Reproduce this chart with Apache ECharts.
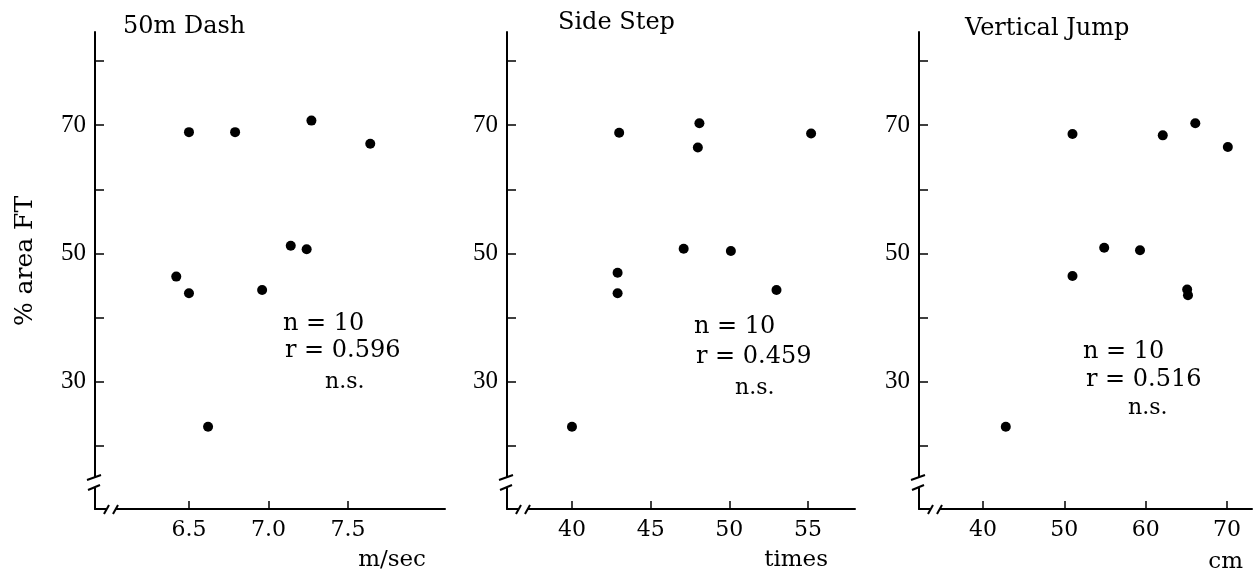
<!DOCTYPE html>
<html>
<head>
<meta charset="utf-8">
<script src="https://cdn.jsdelivr.net/npm/echarts@6/dist/echarts.min.js"></script>
<style>
html,body{margin:0;padding:0;background:#fff;}
#c{width:1254px;height:573px;}
</style>
</head>
<body>
<div id="c"></div>
<script>
// ---- data ----
const panelTitles = ['50m Dash', 'Side Step', 'Vertical Jump'];
const unitLabels = ['m/sec', 'times', 'cm'];
const statN = ['n = 10', 'n = 10', 'n = 10'];
const statR = ['r = 0.596', 'r = 0.459', 'r = 0.516'];
const statSig = ['n.s.', 'n.s.', 'n.s.'];

const dashX = [6.50, 6.79, 7.27, 7.64, 7.14, 7.24, 6.42, 6.50, 6.96, 6.62];
const dashY = [68.9, 68.9, 70.7, 67.1, 51.2, 50.65, 46.4, 43.8, 44.3, 23.0];
const stepX = [43.0, 48.1, 48.0, 55.2, 47.1, 50.1, 42.9, 42.9, 53.0, 40.0];
const stepY = [68.8, 70.3, 66.5, 68.7, 50.75, 50.4, 47.0, 43.8, 44.3, 23.0];
const jumpX = [51.0, 62.1, 66.1, 70.1, 54.9, 59.3, 51.0, 65.1, 65.2, 42.8];
const jumpY = [68.6, 68.4, 70.3, 66.6, 50.9, 50.5, 46.5, 44.4, 43.5, 23.0];

const dashTicks = [6.5, 7.0, 7.5];
const stepTicks = [40, 45, 50, 55];
const jumpTicks = [40, 50, 60, 70];
const yTickValues = [20, 30, 40, 50, 60, 70, 80];
const yLabelValues = [30, 50, 70];

const xRanges = [[5.909, 8.11], [35.87, 57.99], [32.13, 73.07]];
const yRange = [10.2, 84.5];

// ---- layout ----
const gridLefts = [95, 507, 919];
const gridWidths = [350, 348, 333];
const gridTop = 32, gridBottomY = 509;
const INK = '#000';

const xs = [dashX, stepX, jumpX];
const ys = [dashY, stepY, jumpY];
const xticks = [dashTicks, stepTicks, jumpTicks];
const xfmt = [v => Number(v).toFixed(1), v => String(v), v => String(v)];

const grids = [], xAxes = [], yAxes = [], series = [];
for (let i = 0; i < 3; i++) {
  grids.push({left: gridLefts[i], width: gridWidths[i], top: gridTop, height: gridBottomY - gridTop, containLabel: false});
  xAxes.push({
    type: 'value', gridIndex: i, min: xRanges[i][0], max: xRanges[i][1],
    splitLine: {show: false},
    axisLine: {show: true, lineStyle: {color: INK, width: 2}},
    axisTick: {show: true, inside: true, length: 8, customValues: xticks[i], lineStyle: {color: INK, width: 1.5}},
    axisLabel: {show: true, customValues: xticks[i], formatter: xfmt[i], margin: 10,
      color: INK, fontFamily: 'DejaVu Serif', fontSize: 22}
  });
  yAxes.push({
    type: 'value', gridIndex: i, min: yRange[0], max: yRange[1],
    splitLine: {show: false},
    axisLine: {show: true, lineStyle: {color: INK, width: 2}},
    axisTick: {show: true, inside: true, length: 9, customValues: yTickValues, lineStyle: {color: INK, width: 1.5}},
    axisLabel: {show: true, customValues: yLabelValues, margin: 9,
      color: INK, fontFamily: 'Liberation Serif', fontSize: 25}
  });
  series.push({
    type: 'scatter', xAxisIndex: i, yAxisIndex: i,
    data: xs[i].map((x, k) => [x, ys[i][k]]),
    symbol: 'circle', symbolSize: 10,
    itemStyle: {color: '#000', opacity: 1}
  });
}

// text + axis-break decorations
const titlePos = [[123, 27], [558, 23], [965, 29]];
const unitPos = [[426, 560], [828, 560], [1243, 562]];
const nPos = [[283, 324], [694, 327], [1083, 352]];
const rPos = [[285, 351], [696, 357], [1086, 380]];
const sPos = [[325, 382], [735, 388], [1128, 408]];

const graphic = [];
const txt = (x, y, text, size, align, extra) => Object.assign({
  type: 'text', x: x, y: y, silent: true,
  style: {text: text, fill: INK, font: size + 'px "DejaVu Serif"', textAlign: align || 'left', textVerticalAlign: 'middle'}
}, extra || {});

for (let i = 0; i < 3; i++) {
  graphic.push(txt(titlePos[i][0], titlePos[i][1], panelTitles[i], 24));
  graphic.push(txt(unitPos[i][0], unitPos[i][1], unitLabels[i], 23, 'right'));
  graphic.push(txt(nPos[i][0], nPos[i][1], statN[i], 24));
  graphic.push(txt(rPos[i][0], rPos[i][1], statR[i], 24));
  graphic.push(txt(sPos[i][0], sPos[i][1], statSig[i], 22));

  const ax = gridLefts[i], ay = gridBottomY;
  // gap in y axis
  graphic.push({type: 'rect', silent: true, shape: {x: ax - 4, y: ay - 32, width: 8, height: 11}, style: {fill: '#fff'}, z: 100});
  graphic.push({type: 'line', silent: true, z: 101, shape: {x1: ax - 8, y1: ay - 29, x2: ax + 6, y2: ay - 34}, style: {stroke: INK, lineWidth: 2}});
  graphic.push({type: 'line', silent: true, z: 101, shape: {x1: ax - 7, y1: ay - 19, x2: ax + 5, y2: ay - 24}, style: {stroke: INK, lineWidth: 2}});
  // gap in x axis
  graphic.push({type: 'rect', silent: true, shape: {x: ax + 11, y: ay - 4, width: 10, height: 8}, style: {fill: '#fff'}, z: 100});
  graphic.push({type: 'line', silent: true, z: 101, shape: {x1: ax + 9, y1: ay + 5, x2: ax + 14, y2: ay - 4}, style: {stroke: INK, lineWidth: 2}});
  graphic.push({type: 'line', silent: true, z: 101, shape: {x1: ax + 18, y1: ay + 5, x2: ax + 23, y2: ay - 4}, style: {stroke: INK, lineWidth: 2}});
}
graphic.push(txt(25, 261, '% area FT', 25, 'center', {rotation: Math.PI / 2}));

const chart = echarts.init(document.getElementById('c'), null, {renderer: 'canvas'});
chart.setOption({
  backgroundColor: '#fff',
  animation: false,
  grid: grids, xAxis: xAxes, yAxis: yAxes, series: series,
  graphic: graphic
});
</script>
</body>
</html>
